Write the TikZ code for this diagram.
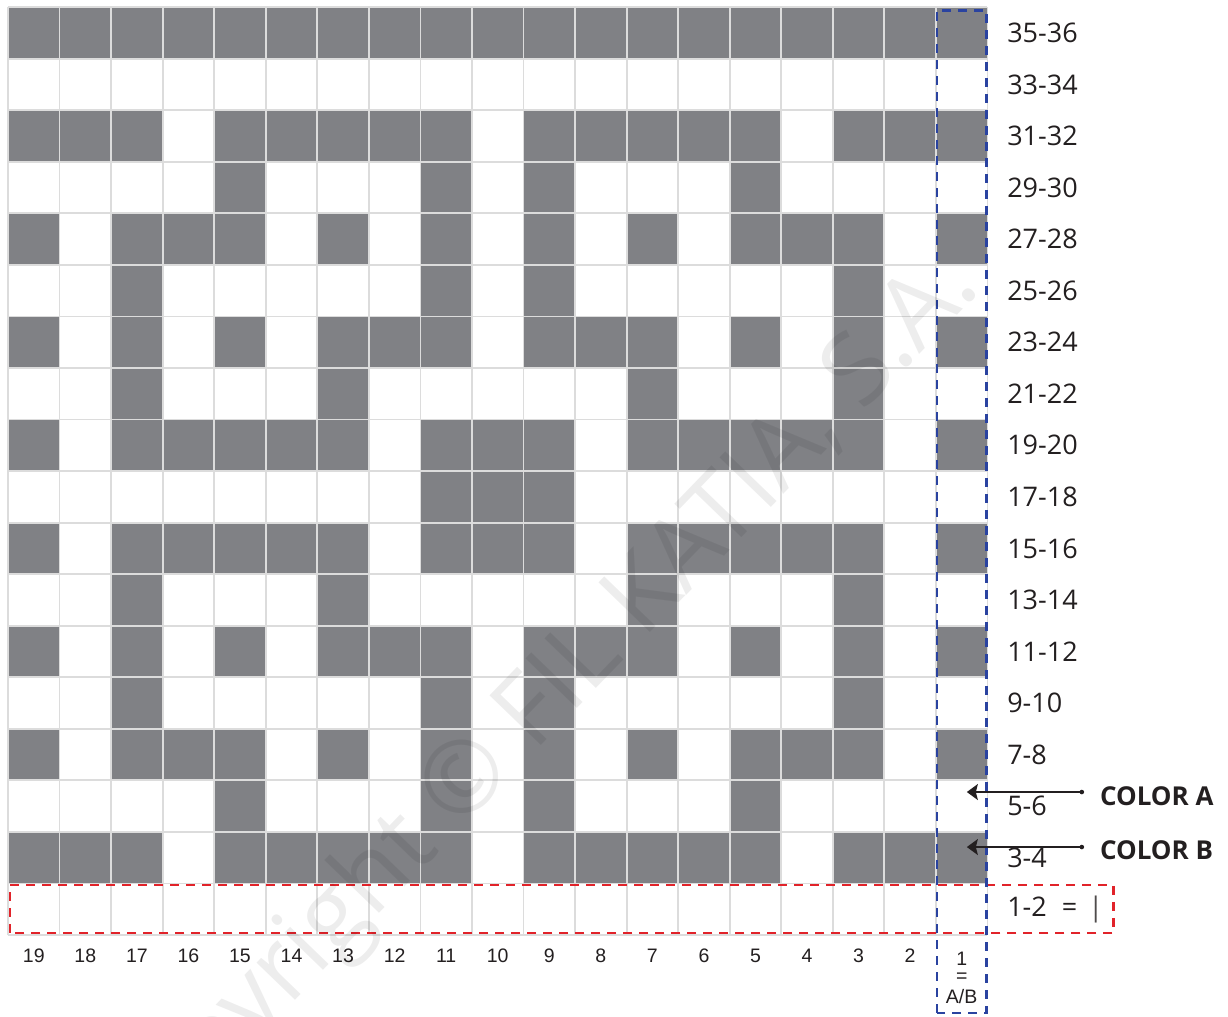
\documentclass[tikz,border=0pt]{standalone}
\usepackage{fontspec}
\setmainfont{Open Sans}
\newfontfamily\arialfont{Liberation Sans}
\usetikzlibrary{arrows.meta}

\definecolor{cellgray}{HTML}{808185}
\definecolor{gridgray}{HTML}{DCDCDC}
\definecolor{framered}{HTML}{E1232A}
\definecolor{frameblue}{HTML}{2A43A0}
\definecolor{inkgray}{HTML}{231F20}

\begin{document}
\begin{tikzpicture}[x=51.55pt, y=51.55pt,
    cell/.style={fill=cellgray},
    rowlabel/.style={anchor=west, inner sep=0pt, text=inkgray, font=\fontsize{27}{27}\selectfont},
    collabel/.style={inner sep=0pt, text=inkgray, font=\arialfont\fontsize{19.5}{19.5}\selectfont},
    colorlabel/.style={anchor=west, inner sep=0pt, text=inkgray, font=\bfseries\fontsize{26}{26}\selectfont},
    pointer/.style={draw=inkgray, line width=1.3pt, -{Stealth[length=11pt, width=16pt, inset=2pt]}},
    redbox/.style={draw=framered, line width=2.7pt, dash pattern=on 9pt off 7pt},
    bluebox/.style={draw=frameblue, line width=2.7pt, dash pattern=on 9pt off 7pt}]

    % Fix the page size
    \useasboundingbox (-0.155,-1.571) rectangle (23.666,18.138);

    % Fill the dark stitches, row by row from the bottom (columns 19 to 1)
    \foreach \r/\cols in {1/{19,18,17,15,14,13,12,11,9,8,7,6,5,3,2,1},
                          2/{15,11,9,5},
                          3/{19,17,16,15,13,11,9,7,5,4,3,1},
                          4/{17,11,9,3},
                          5/{19,17,15,13,12,11,9,8,7,5,3,1},
                          6/{17,13,7,3},
                          7/{19,17,16,15,14,13,11,10,9,7,6,5,4,3,1},
                          8/{11,10,9},
                          9/{19,17,16,15,14,13,11,10,9,7,6,5,4,3,1},
                          10/{17,13,7,3},
                          11/{19,17,15,13,12,11,9,8,7,5,3,1},
                          12/{17,11,9,3},
                          13/{19,17,16,15,13,11,9,7,5,4,3,1},
                          14/{15,11,9,5},
                          15/{19,18,17,15,14,13,12,11,9,8,7,6,5,3,2,1},
                          17/{1,...,19}}
        \foreach \c in \cols
            \fill[cell] (19-\c,\r) rectangle ++(1,1);

    % Draw the light grid
    \draw[gridgray, line width=1.8pt, step=1] (0,0) grid (19,18);

    % Row numbers on the right
    \foreach \r in {1,...,17} {
        \pgfmathtruncatemacro\lo{2*\r+1}
        \pgfmathtruncatemacro\hi{2*\r+2}
        \node[rowlabel] (row\r) at (19.38,\r+0.5) {\lo-\hi};
    }
    \node[rowlabel] (row0) at (19.38,0.5) {1-2\hspace{15pt}=\hspace{11pt}\textcolor{inkgray!80}{|}};

    % Column numbers below
    \foreach \c in {2,...,19}
        \node[collabel] (col\c) at (19.5-\c,-0.41) {\c};
    \node[collabel] (col1) at (18.5,-0.47) {1};
    \node[collabel] (eq1) at (18.5,-0.82) {=};
    \node[collabel] (ab1) at (18.5,-1.19) {A/B};

    % Dashed frames
    \draw[redbox] (0.04,0.04) rectangle (21.44,0.97);
    \draw[bluebox] (18.02,-1.51) rectangle (18.98,17.94);

    % Colour pointers
    \coordinate (dotA) at (20.83,2.774);
    \coordinate (tipA) at (18.60,2.774);
    \coordinate (dotB) at (20.83,1.707);
    \coordinate (tipB) at (18.60,1.707);
    \fill[inkgray] (dotA) circle (2.3pt);
    \fill[inkgray] (dotB) circle (2.3pt);
    \draw[pointer] (dotA) -- (tipA);
    \draw[pointer] (dotB) -- (tipB);
    \node[colorlabel] (colorA) at (21.18,2.70) {COLOR A};
    \node[colorlabel] (colorB) at (21.18,1.64) {COLOR B};

    % Watermark
    \node[rotate=46, text=black, text opacity=0.07, font=\fontsize{100}{100}\selectfont] (mark) at (10.24,4.29) {Copyright © FIL KATIA, S.A.};

\end{tikzpicture}
\end{document}
